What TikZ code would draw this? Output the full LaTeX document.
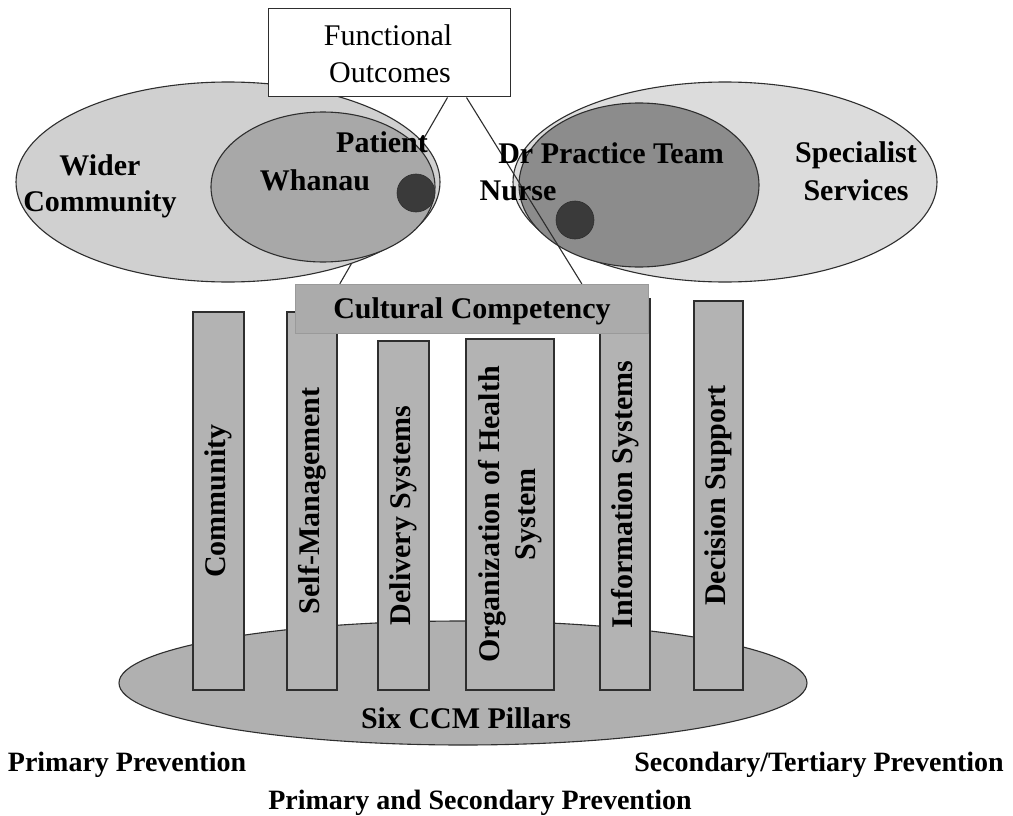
\documentclass[tikz,border=0pt]{standalone}
\usepackage{fontspec}
\setmainfont{Liberation Serif}
\usetikzlibrary{shapes.geometric,calc}
\pgfdeclarelayer{back}
\pgfsetlayers{back,main}
\definecolor{outerL}{HTML}{D0D0D0}
\definecolor{innerL}{HTML}{A8A8A8}
\definecolor{outerR}{HTML}{DCDCDC}
\definecolor{innerR}{HTML}{8C8C8C}
\definecolor{dotc}{HTML}{3A3A3A}
\definecolor{pillarc}{HTML}{B3B3B3}
\definecolor{ccc}{HTML}{ABABAB}
\definecolor{basec}{HTML}{B0B0B0}
\definecolor{edgec}{HTML}{2E2E2E}
\begin{document}
\begin{tikzpicture}[x=1pt,y=-1pt,
  ell/.style={ellipse, draw=edgec, line width=1.1pt, inner sep=0pt},
  dotnode/.style={circle, fill=dotc, draw=dotc!80!black, line width=0.6pt, inner sep=0pt, minimum size=38pt},
  pillar/.style={rectangle, draw=edgec, line width=1.1pt, fill=pillarc, inner sep=0pt,
    font=\bfseries\fontsize{30}{36}\selectfont, align=center, rotate=90},
  lbl/.style={font=\bfseries\fontsize{30}{37}\selectfont, inner sep=0pt, anchor=base},
  lbls/.style={font=\bfseries\fontsize{28}{34}\selectfont, inner sep=0pt, anchor=base},
  lblr/.style={font=\fontsize{30}{37}\selectfont, inner sep=0pt, anchor=base},
  conn/.style={draw=edgec, line width=1.1pt}]
\useasboundingbox (0,0) rectangle (1013,816);

% base ellipse
\node[ell, fill=basec, minimum width=688pt, minimum height=124pt] (base) at (463,683) {};
% pillars
\node[pillar, minimum width=378pt, minimum height=51pt] (p1) at (218.5,501) {Community};
\node[pillar, minimum width=378pt, minimum height=50pt] (p2) at (312,501) {Self-Management};
\node[pillar, minimum width=349pt, minimum height=51pt] (p3) at (403.5,515.5) {Delivery Systems};
\node[pillar, minimum width=351pt, minimum height=88pt] (p4) at (510,514.5) {Organization of Health\\System};
\node[pillar, minimum width=391pt, minimum height=50pt] (p5) at (625,494.5) {Information Systems};
\node[pillar, minimum width=389pt, minimum height=49pt] (p6) at (718.5,495.5) {Decision Support};
% cultural competency bar
\node[rectangle, fill=ccc, draw=ccc!90!black, line width=0.4pt, inner sep=0pt, minimum width=353pt, minimum height=49pt] (cc) at (471.5,308.5) {};
\node[lbl] (cct) at (472,318) {Cultural Competency};
\node[lbl] (bt) at (466,728) {Six CCM Pillars};

% left ellipses
\node[ell, fill=outerL, minimum width=424pt, minimum height=200pt] (wl) at (228,182) {};
\node[ell, fill=innerL, minimum width=224pt, minimum height=150pt] (wh) at (323,187) {};
\node[dotnode] (d1) at (416,193) {};
% right ellipses
\node[ell, fill=outerR, minimum width=424pt, minimum height=200pt] (ss) at (725,182) {};
\node[ell, fill=innerR, minimum width=240pt, minimum height=164pt] (pt) at (639,185) {};
\node[dotnode] (d2) at (575,220) {};

% functional outcomes box
\node[rectangle, draw=edgec, fill=white, line width=1pt, minimum width=242pt, minimum height=88pt, inner sep=0pt] (fo) at (389,53) {};
\node[lblr] (fo1) at (388,46) {Functional};
\node[lblr] (fo2) at (390,83) {Outcomes};

% connectors
\begin{pgfonlayer}{back}
\fill[white] (0,0) rectangle (1013,816);
\draw[conn] ([xshift=180pt]fo.south west) -- ([xshift=45pt]cc.north west);
\end{pgfonlayer}
\draw[conn] ([xshift=199pt]fo.south west) -- ([xshift=287pt]cc.north west);

% labels
\node[lbl] (t1) at (100,175) {Wider};
\node[lbl] (t2) at (100,211) {Community};
\node[lbl] (t3) at (382,153) {Patient};
\node[lbl] (t4) at (315,190) {Whanau};
\node[lbl] (t5) at (611,164) {Dr Practice Team};
\node[lbl] (t6) at (518,200) {Nurse};
\node[lbl] (t7) at (856,162) {Specialist};
\node[lbl] (t8) at (856,200) {Services};

\node[lbls] (b1) at (127,771) {Primary Prevention};
\node[lbls] (b2) at (819,771) {Secondary/Tertiary Prevention};
\node[lbls] (b3) at (480,809) {Primary and Secondary Prevention};
\end{tikzpicture}
\end{document}
